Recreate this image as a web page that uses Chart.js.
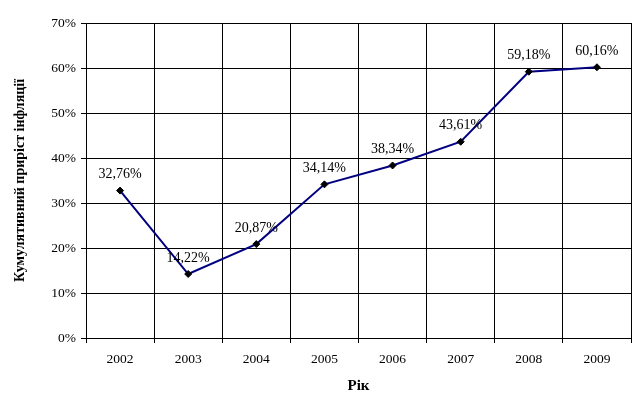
<!DOCTYPE html>
<html>
<head>
<meta charset="utf-8">
<script src="https://cdn.jsdelivr.net/npm/chart.js@4"></script>
<style>
  html, body { margin: 0; padding: 0; background: #fff; }
  #wrap { width: 642px; height: 399px; }
</style>
</head>
<body>
<div id="wrap"><canvas id="chart" width="642" height="399"></canvas></div>
<script>
// Дані графіка
const years = ["2002", "2003", "2004", "2005", "2006", "2007", "2008", "2009"];
const inflation = [32.76, 14.22, 20.87, 34.14, 38.34, 43.61, 59.18, 60.16];
const yTicks = [0, 10, 20, 30, 40, 50, 60, 70];

const serif = "'Liberation Serif', 'Times New Roman', serif";

// Підписи значень над точками
const valueLabels = {
  id: "valueLabels",
  afterDatasetsDraw(chart) {
    const ctx = chart.ctx;
    const meta = chart.getDatasetMeta(0);
    ctx.save();
    ctx.font = "14px " + serif;
    ctx.fillStyle = "#000";
    ctx.textAlign = "center";
    ctx.textBaseline = "middle";
    meta.data.forEach((pt, i) => {
      const txt = inflation[i].toFixed(2).replace(".", ",") + "%";
      ctx.fillText(txt, pt.x, pt.y - 16);
    });
    ctx.restore();
  },
};

const ctx = document.getElementById("chart").getContext("2d");
const chart = new Chart(ctx, {
  type: "line",
  data: {
    labels: years,
    datasets: [
      {
        data: inflation,
        borderColor: "#000080",
        borderWidth: 2,
        pointStyle: "rectRot",
        pointRadius: 3.5,
        pointBackgroundColor: "#000",
        pointBorderColor: "#000",
        pointBorderWidth: 1,
        tension: 0,
      },
    ],
  },
  options: {
    responsive: false,
    animation: false,
    layout: { padding: { left: 0, right: 11, top: 23, bottom: 0 } },
    plugins: {
      legend: { display: false },
      tooltip: { enabled: false },
    },
    scales: {
      x: {
        offset: true,
        grid: { offset: true, color: "#000", lineWidth: 1, tickLength: 5 },
        border: { color: "#000", width: 1 },
        ticks: { color: "#000", font: { family: serif, size: 13.5 }, padding: 8, maxRotation: 0 },
        title: {
          display: true,
          text: "Рік",
          color: "#000",
          font: { family: serif, size: 15, weight: "bold" },
          padding: { top: 7 },
        },
        afterFit(scale) {
          scale.height = 61;
        },
      },
      y: {
        min: 0,
        max: 70,
        afterBuildTicks(scale) {
          scale.ticks = yTicks.map((v) => ({ value: v }));
        },
        grid: { color: "#000", lineWidth: 1, tickLength: 5 },
        border: { color: "#000", width: 1 },
        ticks: {
          color: "#000",
          font: { family: serif, size: 13.5 },
          padding: 5,
          callback: (v) => v + "%",
        },
        title: {
          display: true,
          text: "Кумулятивний приріст інфляції",
          color: "#000",
          font: { family: serif, size: 14, weight: "bold" },
          padding: { top: 12, bottom: 4 },
        },
        afterFit(scale) {
          scale.width = 86;
        },
      },
    },
  },
  plugins: [valueLabels],
});
</script>
</body>
</html>
